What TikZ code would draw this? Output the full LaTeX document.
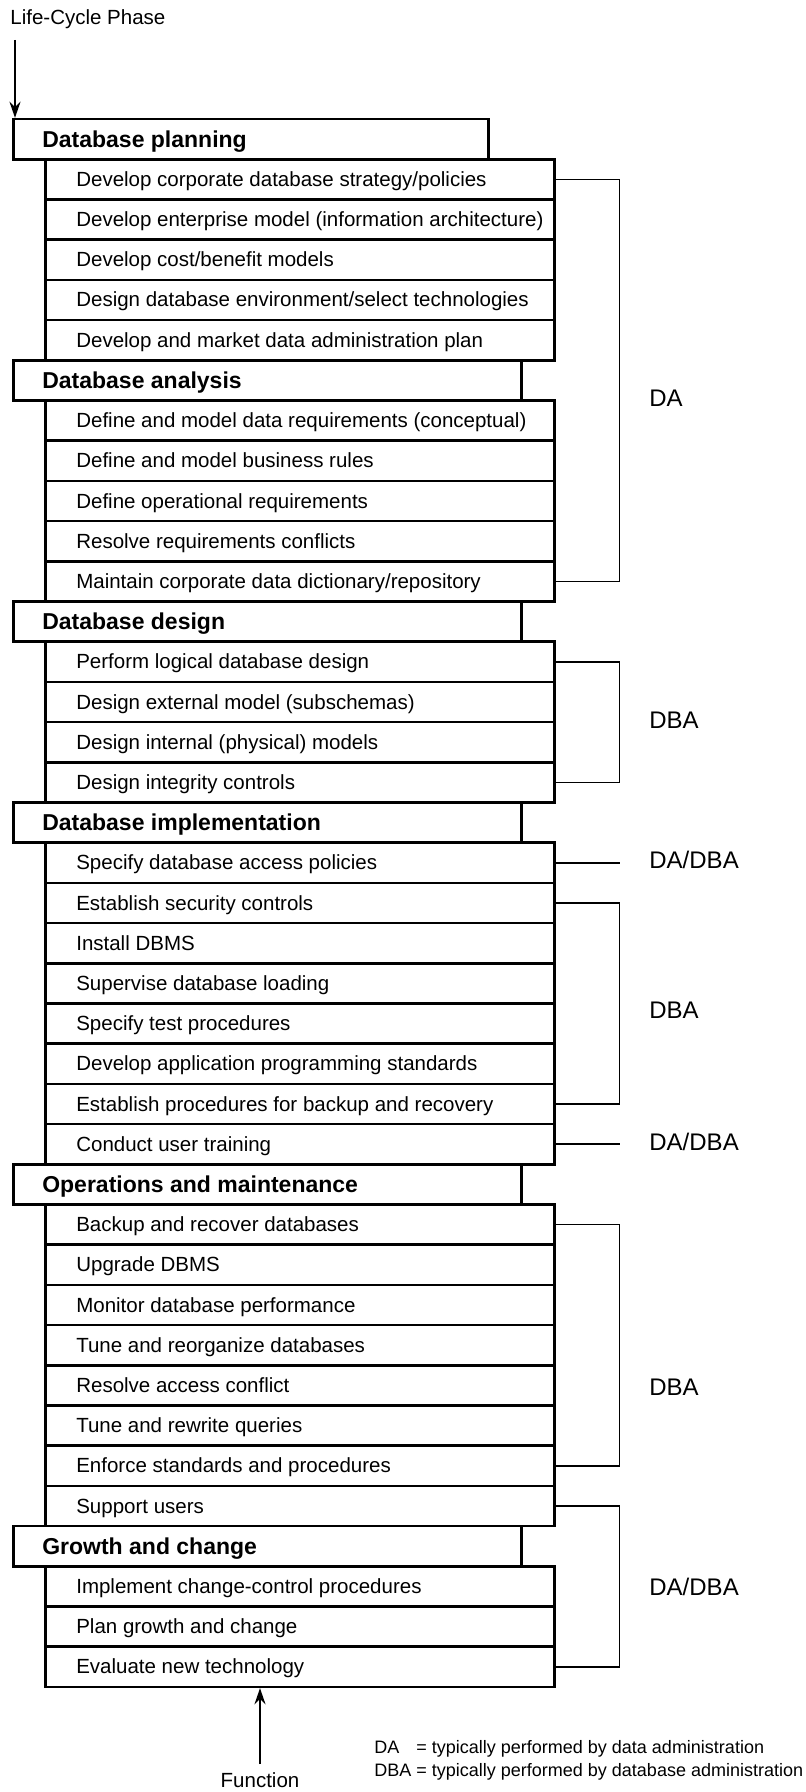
\documentclass[tikz,border=0pt]{standalone}
\usepackage{fontspec}
\setmainfont{Liberation Sans}
\usetikzlibrary{arrows.meta}
\newcommand{\tk}[1]{\makebox[223.5pt][l]{#1}}
\newcommand{\ph}[2][225pt]{\makebox[#1][l]{#2}}
\begin{document}
\begin{tikzpicture}[x=0.5pt,y=-0.5pt,
  taskbox/.style={draw, line width=1.3pt, anchor=north west, minimum height=20.1pt,
    inner xsep=15.5pt, inner ysep=0pt, text height=9pt, text depth=2pt,
    font=\fontsize{10.25}{12}\selectfont},
  phasebox/.style={draw, line width=1.3pt, anchor=north west, minimum height=20.1pt,
    inner xsep=14.5pt, inner ysep=0pt, text height=10.5pt, text depth=2.3pt,
    font=\bfseries\fontsize{11.5}{13}\selectfont},
  bracket/.style={line width=0.8pt},
  lab/.style={anchor=west, inner sep=0pt, font=\fontsize{12}{14}\selectfont},
  plain/.style={inner sep=0pt, font=\fontsize{10.25}{12}\selectfont},
  arr/.style={line width=0.8pt, -{Stealth[length=8pt,width=5.5pt]}}]
\useasboundingbox (0,0) rectangle (806,1792);

% Database planning
\node[phasebox] (hp) at (12,117.8) {\ph[208.5pt]{Database planning}};
\node[taskbox] (p1) at (44,158.0) {\tk{Develop corporate database strategy/policies}};
\node[taskbox] (p2) at (44,198.2) {\tk{Develop enterprise model (information architecture)}};
\node[taskbox] (p3) at (44,238.4) {\tk{Develop cost/benefit models}};
\node[taskbox] (p4) at (44,278.6) {\tk{Design database environment/select technologies}};
\node[taskbox] (p5) at (44,318.8) {\tk{Develop and market data administration plan}};
% Database analysis
\node[phasebox] (ha) at (12,359.0) {\ph{Database analysis}};
\node[taskbox] (a1) at (44,399.2) {\tk{Define and model data requirements (conceptual)}};
\node[taskbox] (a2) at (44,439.4) {\tk{Define and model business rules}};
\node[taskbox] (a3) at (44,479.6) {\tk{Define operational requirements}};
\node[taskbox] (a4) at (44,519.8) {\tk{Resolve requirements conflicts}};
\node[taskbox] (a5) at (44,560.0) {\tk{Maintain corporate data dictionary/repository}};
% Database design
\node[phasebox] (hd) at (12,600.2) {\ph{Database design}};
\node[taskbox] (d1) at (44,640.4) {\tk{Perform logical database design}};
\node[taskbox] (d2) at (44,680.6) {\tk{Design external model (subschemas)}};
\node[taskbox] (d3) at (44,720.8) {\tk{Design internal (physical) models}};
\node[taskbox] (d4) at (44,761.0) {\tk{Design integrity controls}};
% Database implementation
\node[phasebox] (hi) at (12,801.2) {\ph{Database implementation}};
\node[taskbox] (i1) at (44,841.4) {\tk{Specify database access policies}};
\node[taskbox] (i2) at (44,881.6) {\tk{Establish security controls}};
\node[taskbox] (i3) at (44,921.8) {\tk{Install DBMS}};
\node[taskbox] (i4) at (44,962.0) {\tk{Supervise database loading}};
\node[taskbox] (i5) at (44,1002.2) {\tk{Specify test procedures}};
\node[taskbox] (i6) at (44,1042.4) {\tk{Develop application programming standards}};
\node[taskbox] (i7) at (44,1082.6) {\tk{Establish procedures for backup and recovery}};
\node[taskbox] (i8) at (44,1122.8) {\tk{Conduct user training}};
% Operations and maintenance
\node[phasebox] (ho) at (12,1163.0) {\ph{Operations and maintenance}};
\node[taskbox] (o1) at (44,1203.2) {\tk{Backup and recover databases}};
\node[taskbox] (o2) at (44,1243.4) {\tk{Upgrade DBMS}};
\node[taskbox] (o3) at (44,1283.6) {\tk{Monitor database performance}};
\node[taskbox] (o4) at (44,1323.8) {\tk{Tune and reorganize databases}};
\node[taskbox] (o5) at (44,1364.0) {\tk{Resolve access conflict}};
\node[taskbox] (o6) at (44,1404.2) {\tk{Tune and rewrite queries}};
\node[taskbox] (o7) at (44,1444.4) {\tk{Enforce standards and procedures}};
\node[taskbox] (o8) at (44,1484.6) {\tk{Support users}};
% Growth and change
\node[phasebox] (hg) at (12,1524.8) {\ph{Growth and change}};
\node[taskbox] (g1) at (44,1565.0) {\tk{Implement change-control procedures}};
\node[taskbox] (g2) at (44,1605.2) {\tk{Plan growth and change}};
\node[taskbox] (g3) at (44,1645.4) {\tk{Evaluate new technology}};

% brackets
\draw[bracket] (p1.east) -- ++(32pt,0) |- (a5.east);
\draw[bracket] (d1.east) -- ++(32pt,0) |- (d4.east);
\draw[bracket] (i1.east) -- ++(32pt,0);
\draw[bracket] (i2.east) -- ++(32pt,0) |- (i7.east);
\draw[bracket] (i8.east) -- ++(32pt,0);
\draw[bracket] (o1.east) -- ++(32pt,0) |- (o7.east);
\draw[bracket] (o8.east) -- ++(32pt,0) |- (g3.east);

% labels
\node[lab] (l1) at (649,398) {DA};
\node[lab] (l2) at (649,720) {DBA};
\node[lab] (l3) at (649,860) {DA/DBA};
\node[lab] (l4) at (649,1010) {DBA};
\node[lab] (l5) at (649,1142) {DA/DBA};
\node[lab] (l6) at (649,1387) {DBA};
\node[lab] (l7) at (649,1587) {DA/DBA};

% top arrow
\node[plain, anchor=west] (lcp) at (10,19) {Life-Cycle Phase};
\coordinate (lcpa) at (15,40);
\draw[arr] (lcpa) -- (lcpa |- hp.north);

% bottom arrow
\node[plain] (fn) at (260,1780) {Function};
\draw[arr] ([yshift=4pt]fn.north) -- (fn.north |- g3.south);

% legend
\node[anchor=west, inner sep=0pt, font=\fontsize{9}{11.5}\selectfont] (leg) at (374,1760.5)
  {\begin{tabular}{@{}l@{ }l@{}}DA & = typically performed by data administration\\
   DBA & = typically performed by database administration\end{tabular}};
\end{tikzpicture}
\end{document}
